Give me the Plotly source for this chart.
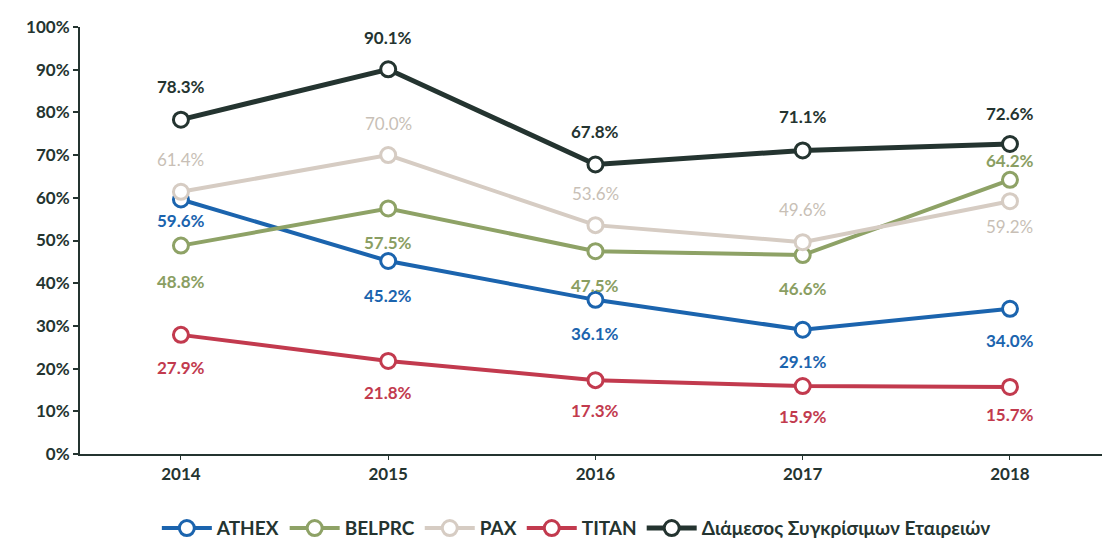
import plotly.graph_objects as go

years = ["2014", "2015", "2016", "2017", "2018"]
athex = [59.6, 45.2, 36.1, 29.1, 34.0]
belprc = [48.8, 57.5, 47.5, 46.6, 64.2]
pax = [61.4, 70.0, 53.6, 49.6, 59.2]
titan = [27.9, 21.8, 17.3, 15.9, 15.7]
median = [78.3, 90.1, 67.8, 71.1, 72.6]
y_ticks = [0, 10, 20, 30, 40, 50, 60, 70, 80, 90, 100]

series = [
    ("ATHEX", athex, "#1b64ae", "#1b64ae", 4, [-21, -34, -34, -32, -32], True),
    ("BELPRC", belprc, "#8ea266", "#8a9e62", 4, [-36, -34, -34, -33, 19], True),
    ("PAX", pax, "#d6ccc3", "#c8bfb6", 4, [32, 32, 32, 33, -25], False),
    ("TITAN", titan, "#c23a4e", "#c23a4e", 4, [-33, -32, -30, -30, -28], True),
    ("Διάμεσος Συγκρίσιμων Εταιρειών", median, "#243430", "#243430", 5, [33, 32, 33, 34, 31], True),
]

FONT = "Lato"
fig = go.Figure()
xs = list(range(len(years)))
annotations = []
for name, vals, color, tcolor, lw, shifts, bold in series:
    fig.add_trace(go.Scatter(
        x=xs, y=vals, name=f"<b>{name}</b>", mode="lines+markers",
        line=dict(color=color, width=lw),
        marker=dict(symbol="circle", size=15, color="white",
                    line=dict(color=color, width=3)),
        hoverinfo="skip",
    ))
    for xi, v, s in zip(xs, vals, shifts):
        txt = f"{v:.1f}%"
        annotations.append(dict(
            x=xi, y=v, xref="x", yref="y", text=f"<b>{txt}</b>" if bold else txt,
            showarrow=False, yshift=s,
            font=dict(family=FONT, size=17, color=tcolor),
        ))

fig.update_layout(
    width=1102, height=539,
    margin=dict(l=80, r=0, t=27, b=85),
    paper_bgcolor="white", plot_bgcolor="white",
    showlegend=True,
    legend=dict(orientation="h", xref="container", yref="container",
                x=0.523, xanchor="center", y=0.02, yanchor="middle",
                font=dict(family=FONT, size=19, color="#243430"),
                itemwidth=50, tracegroupgap=0),
    annotations=annotations,
    font=dict(family=FONT),
)
fig.update_xaxes(
    range=[-0.487, 4.444], tickvals=xs, ticktext=[f"<b>{y}</b>" for y in years],
    showgrid=False, zeroline=False, showline=True, linecolor="#243430", linewidth=2,
    ticks="outside", ticklen=4, tickcolor="#243430", tickwidth=1, automargin=False,
    tickfont=dict(family=FONT, size=17, color="#243430"),
)
fig.update_yaxes(
    range=[0, 100], tickvals=y_ticks, ticktext=[f"<b>{t}%</b>" for t in y_ticks],
    showgrid=False, zeroline=False, showline=True, linecolor="#243430", linewidth=2,
    ticks="outside", ticklen=5, tickcolor="#243430", tickwidth=2, automargin=False,
    tickfont=dict(family=FONT, size=17, color="#243430"),
)

fig.write_html(
    "out.html",
    config={"displayModeBar": False},
    post_script="document.body.style.margin='0';document.body.style.overflow='hidden';",
)
